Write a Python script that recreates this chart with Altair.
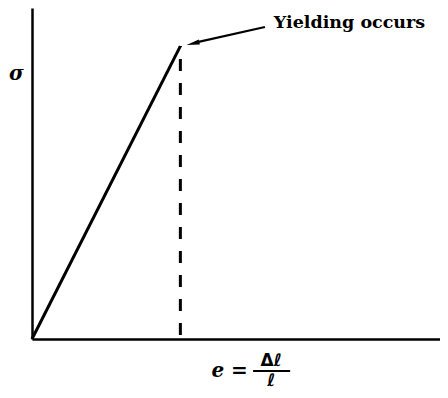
import altair as alt
import pandas as pd

# Elastic line: strain vs stress (arbitrary units)
strain_line = [0.0, 1.0]
stress_line = [0.0, 1.0]

# Dashed line at yield strain
yield_strain = [1.0, 1.0]
yield_stress = [0.0, 1.0]

# Annotation arrow
arrow_x = [1.57, 1.10]
arrow_y = [1.065, 1.012]
arrow_tip_x = [1.085]
arrow_tip_y = [1.009]

label_text = ["Yielding occurs"]
label_x = [1.63]
label_y = [1.062]

W, H = 408, 331
xs = alt.Scale(domain=[0, 2.75], nice=False, zero=False)
ys = alt.Scale(domain=[0, 1.13], nice=False, zero=False)

ax_x = alt.Axis(domain=True, domainColor="black", domainWidth=2.5, ticks=False,
                labels=False, grid=False, title=None)
ax_y = alt.Axis(domain=True, domainColor="black", domainWidth=2.5, ticks=False,
                labels=False, grid=False, title=None)

base_df = pd.DataFrame({"e": strain_line, "s": stress_line})
line = alt.Chart(base_df).mark_line(color="black", strokeWidth=3, clip=False).encode(
    x=alt.X("e:Q", scale=xs, axis=ax_x),
    y=alt.Y("s:Q", scale=ys, axis=ax_y),
)

dash = alt.Chart(pd.DataFrame({"e": yield_strain, "s": yield_stress})).mark_line(
    color="black", strokeWidth=3, strokeDash=[12, 12], strokeDashOffset=-4
).encode(x=alt.X("e:Q", scale=xs), y=alt.Y("s:Q", scale=ys))

shaft = alt.Chart(pd.DataFrame({"e": arrow_x, "s": arrow_y})).mark_line(
    color="black", strokeWidth=2.2, clip=False
).encode(x=alt.X("e:Q", scale=xs), y=alt.Y("s:Q", scale=ys))

head = alt.Chart(pd.DataFrame({"e": arrow_tip_x, "s": arrow_tip_y})).mark_point(
    shape="M0,-1L0.38,1L-0.38,1Z", filled=True, color="black", opacity=1,
    size=170, angle=257, clip=False
).encode(x=alt.X("e:Q", scale=xs), y=alt.Y("s:Q", scale=ys))

label = alt.Chart(pd.DataFrame({"t": label_text, "e": label_x, "s": label_y})).mark_text(
    align="left", baseline="alphabetic", font="DejaVu Serif", fontWeight="bold",
    fontSize=17.5, color="black", clip=False
).encode(x=alt.X("e:Q", scale=xs), y=alt.Y("s:Q", scale=ys), text="t:N")

sigma = alt.Chart(pd.DataFrame({"t": ["σ"], "e": [-0.105], "s": [0.905]})).mark_text(
    align="center", baseline="middle", font="DejaVu Serif", fontWeight="bold",
    fontStyle="italic", fontSize=20, color="black", clip=False
).encode(x=alt.X("e:Q", scale=xs), y=alt.Y("s:Q", scale=ys), text="t:N")

e_eq = alt.Chart(pd.DataFrame({"t": ["e ="], "e": [1.455], "s": [-0.109]})).mark_text(
    align="right", baseline="middle", font="DejaVu Serif", fontWeight="bold",
    fontStyle="italic", fontSize=20, color="black", clip=False
).encode(x=alt.X("e:Q", scale=xs), y=alt.Y("s:Q", scale=ys), text="t:N")

numer = alt.Chart(pd.DataFrame({"t": ["Δℓ"], "e": [1.612], "s": [-0.092]})).mark_text(
    align="center", baseline="alphabetic", font="DejaVu Sans", fontWeight="bold",
    fontSize=17, color="black", clip=False
).encode(x=alt.X("e:Q", scale=xs), y=alt.Y("s:Q", scale=ys), text="t:N")

denom = alt.Chart(pd.DataFrame({"t": ["ℓ"], "e": [1.612], "s": [-0.161]})).mark_text(
    align="center", baseline="alphabetic", font="DejaVu Sans", fontWeight="bold",
    fontSize=17, color="black", clip=False
).encode(x=alt.X("e:Q", scale=xs), y=alt.Y("s:Q", scale=ys), text="t:N")

bar = alt.Chart(pd.DataFrame({"e": [1.49], "e2": [1.74], "s": [-0.109]})).mark_rule(
    color="black", strokeWidth=2, clip=False
).encode(x=alt.X("e:Q", scale=xs), x2="e2:Q", y=alt.Y("s:Q", scale=ys))

chart = alt.layer(line, dash, shaft, head, label, sigma, e_eq, numer, denom, bar).properties(
    width=W, height=H,
    autosize=alt.AutoSizeParams(type="none"),
    padding={"left": 24, "top": 0, "right": 0, "bottom": 51},
    background="white",
).configure_view(stroke=None)

chart.save("out.html", embed_options={"renderer": "svg", "actions": False})
